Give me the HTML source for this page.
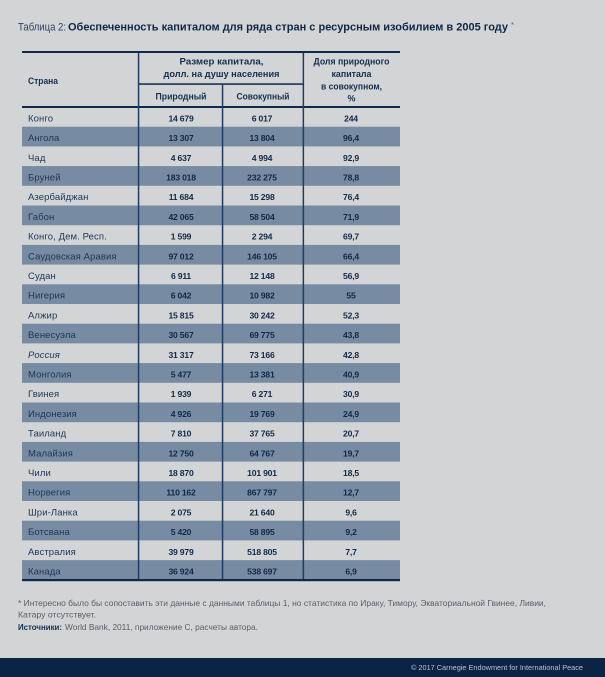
<!DOCTYPE html>
<html><head><meta charset="utf-8"><style>
html,body{margin:0;padding:0;background:#d3d4d6;}
svg{display:block;}
text{font-family:"Liberation Sans","DejaVu Sans",sans-serif;}
.c{font-size:9.5px;fill:#1c3759;letter-spacing:0.1px;}
.n{font-size:8.6px;font-weight:bold;fill:#10294a;text-anchor:middle;letter-spacing:-0.2px;}
.h{font-size:9px;font-weight:bold;fill:#13304f;text-anchor:middle;}
.f{font-size:8.3px;fill:#56606b;}
</style></head><body>
<svg width="605" height="677" viewBox="0 0 605 677" xmlns="http://www.w3.org/2000/svg">
<rect x="0" y="0" width="605" height="677" fill="#d3d4d6"/>
<!-- title -->
<text x="18" y="30.3" font-size="11" fill="#2a4468" textLength="48" lengthAdjust="spacingAndGlyphs">Таблица 2:</text>
<text x="68" y="30.3" font-size="11" font-weight="bold" fill="#0f2747" textLength="440" lengthAdjust="spacingAndGlyphs">Обеспеченность капиталом для ряда стран с ресурсным изобилием в 2005 году</text>
<text x="511" y="28" font-size="8" fill="#6a7582">*</text>

<!-- shaded rows -->
<g fill="#778ba2">
<rect x="22" y="126.7" width="378" height="19.7"/>
<rect x="22" y="166.1" width="378" height="19.7"/>
<rect x="22" y="205.5" width="378" height="19.7"/>
<rect x="22" y="244.9" width="378" height="19.7"/>
<rect x="22" y="284.3" width="378" height="19.7"/>
<rect x="22" y="323.7" width="378" height="19.7"/>
<rect x="22" y="363.1" width="378" height="19.7"/>
<rect x="22" y="402.5" width="378" height="19.7"/>
<rect x="22" y="441.9" width="378" height="19.7"/>
<rect x="22" y="481.3" width="378" height="19.7"/>
<rect x="22" y="520.7" width="378" height="19.7"/>
<rect x="22" y="560.1" width="378" height="19.7"/>
</g>

<!-- lines -->
<g fill="#10294a">
<rect x="22" y="51" width="378" height="2"/>
<rect x="22" y="106" width="378" height="2"/>
<rect x="22" y="579" width="378" height="2.2"/>
<rect x="138.5" y="83.3" width="165" height="1.5"/>
</g>
<g fill="#1e3d62">
<rect x="137.8" y="53" width="1.5" height="526"/>
<rect x="302.6" y="53" width="1.5" height="526"/>
<rect x="221.8" y="84" width="1.5" height="495"/>
</g>

<!-- header text -->
<text x="28" y="84" class="h" style="text-anchor:start" textLength="30" lengthAdjust="spacingAndGlyphs">Страна</text>
<text x="221.5" y="64.5" class="h" textLength="84" lengthAdjust="spacingAndGlyphs">Размер капитала,</text>
<text x="221.5" y="77" class="h" textLength="116" lengthAdjust="spacingAndGlyphs">долл. на душу населения</text>
<text x="181" y="99.5" class="h" textLength="51" lengthAdjust="spacingAndGlyphs">Природный</text>
<text x="263" y="99.5" class="h" textLength="53" lengthAdjust="spacingAndGlyphs">Совокупный</text>
<text x="351.5" y="64.5" class="h" textLength="76" lengthAdjust="spacingAndGlyphs">Доля природного</text>
<text x="351.5" y="77" class="h" textLength="40" lengthAdjust="spacingAndGlyphs">капитала</text>
<text x="351.5" y="89.5" class="h" textLength="61" lengthAdjust="spacingAndGlyphs">в совокупном,</text>
<text x="351.5" y="101.5" class="h">%</text>

<!-- rows -->
<text x="28" y="121.4" class="c">Конго</text><text x="181" y="121.4" class="n">14 679</text><text x="262" y="121.4" class="n">6 017</text><text x="351" y="121.4" class="n">244</text>
<text x="28" y="141.1" class="c">Ангола</text><text x="181" y="141.1" class="n">13 307</text><text x="262" y="141.1" class="n">13 804</text><text x="351" y="141.1" class="n">96,4</text>
<text x="28" y="160.8" class="c">Чад</text><text x="181" y="160.8" class="n">4 637</text><text x="262" y="160.8" class="n">4 994</text><text x="351" y="160.8" class="n">92,9</text>
<text x="28" y="180.5" class="c">Бруней</text><text x="181" y="180.5" class="n">183 018</text><text x="262" y="180.5" class="n">232 275</text><text x="351" y="180.5" class="n">78,8</text>
<text x="28" y="200.2" class="c">Азербайджан</text><text x="181" y="200.2" class="n">11 684</text><text x="262" y="200.2" class="n">15 298</text><text x="351" y="200.2" class="n">76,4</text>
<text x="28" y="219.9" class="c">Габон</text><text x="181" y="219.9" class="n">42 065</text><text x="262" y="219.9" class="n">58 504</text><text x="351" y="219.9" class="n">71,9</text>
<text x="28" y="239.6" class="c">Конго, Дем. Респ.</text><text x="181" y="239.6" class="n">1 599</text><text x="262" y="239.6" class="n">2 294</text><text x="351" y="239.6" class="n">69,7</text>
<text x="28" y="259.3" class="c">Саудовская Аравия</text><text x="181" y="259.3" class="n">97 012</text><text x="262" y="259.3" class="n">146 105</text><text x="351" y="259.3" class="n">66,4</text>
<text x="28" y="279" class="c">Судан</text><text x="181" y="279" class="n">6 911</text><text x="262" y="279" class="n">12 148</text><text x="351" y="279" class="n">56,9</text>
<text x="28" y="298.7" class="c">Нигерия</text><text x="181" y="298.7" class="n">6 042</text><text x="262" y="298.7" class="n">10 982</text><text x="351" y="298.7" class="n">55</text>
<text x="28" y="318.4" class="c">Алжир</text><text x="181" y="318.4" class="n">15 815</text><text x="262" y="318.4" class="n">30 242</text><text x="351" y="318.4" class="n">52,3</text>
<text x="28" y="338.1" class="c">Венесуэла</text><text x="181" y="338.1" class="n">30 567</text><text x="262" y="338.1" class="n">69 775</text><text x="351" y="338.1" class="n">43,8</text>
<text x="28" y="357.8" class="c" font-style="italic">Россия</text><text x="181" y="357.8" class="n">31 317</text><text x="262" y="357.8" class="n">73 166</text><text x="351" y="357.8" class="n">42,8</text>
<text x="28" y="377.5" class="c">Монголия</text><text x="181" y="377.5" class="n">5 477</text><text x="262" y="377.5" class="n">13 381</text><text x="351" y="377.5" class="n">40,9</text>
<text x="28" y="397.2" class="c">Гвинея</text><text x="181" y="397.2" class="n">1 939</text><text x="262" y="397.2" class="n">6 271</text><text x="351" y="397.2" class="n">30,9</text>
<text x="28" y="416.9" class="c">Индонезия</text><text x="181" y="416.9" class="n">4 926</text><text x="262" y="416.9" class="n">19 769</text><text x="351" y="416.9" class="n">24,9</text>
<text x="28" y="436.6" class="c">Таиланд</text><text x="181" y="436.6" class="n">7 810</text><text x="262" y="436.6" class="n">37 765</text><text x="351" y="436.6" class="n">20,7</text>
<text x="28" y="456.3" class="c">Малайзия</text><text x="181" y="456.3" class="n">12 750</text><text x="262" y="456.3" class="n">64 767</text><text x="351" y="456.3" class="n">19,7</text>
<text x="28" y="476" class="c">Чили</text><text x="181" y="476" class="n">18 870</text><text x="262" y="476" class="n">101 901</text><text x="351" y="476" class="n">18,5</text>
<text x="28" y="495.7" class="c">Норвегия</text><text x="181" y="495.7" class="n">110 162</text><text x="262" y="495.7" class="n">867 797</text><text x="351" y="495.7" class="n">12,7</text>
<text x="28" y="515.4" class="c">Шри-Ланка</text><text x="181" y="515.4" class="n">2 075</text><text x="262" y="515.4" class="n">21 640</text><text x="351" y="515.4" class="n">9,6</text>
<text x="28" y="535.1" class="c">Ботсвана</text><text x="181" y="535.1" class="n">5 420</text><text x="262" y="535.1" class="n">58 895</text><text x="351" y="535.1" class="n">9,2</text>
<text x="28" y="554.8" class="c">Австралия</text><text x="181" y="554.8" class="n">39 979</text><text x="262" y="554.8" class="n">518 805</text><text x="351" y="554.8" class="n">7,7</text>
<text x="28" y="574.5" class="c">Канада</text><text x="181" y="574.5" class="n">36 924</text><text x="262" y="574.5" class="n">538 697</text><text x="351" y="574.5" class="n">6,9</text>

<!-- footnotes -->
<text x="18" y="606" class="f" textLength="528" lengthAdjust="spacingAndGlyphs">* Интересно было бы сопоставить эти данные с данными таблицы 1, но статистика по Ираку, Тимору, Экваториальной Гвинее, Ливии,</text>
<text x="18" y="617.5" class="f" textLength="78" lengthAdjust="spacingAndGlyphs">Катару отсутствует.</text>
<text x="18" y="630" class="f" style="font-weight:bold;fill:#13304f" textLength="44" lengthAdjust="spacingAndGlyphs">Источники:</text>
<text x="65" y="630" class="f" textLength="193" lengthAdjust="spacingAndGlyphs">World Bank, 2011, приложение С, расчеты автора.</text>

<!-- footer -->
<rect x="0" y="658" width="605" height="19" fill="#0b2446"/>
<text x="411" y="670" font-size="7.5" fill="#b9c3cd" textLength="172" lengthAdjust="spacingAndGlyphs">© 2017 Carnegie Endowment for International Peace</text>
</svg>
</body></html>
